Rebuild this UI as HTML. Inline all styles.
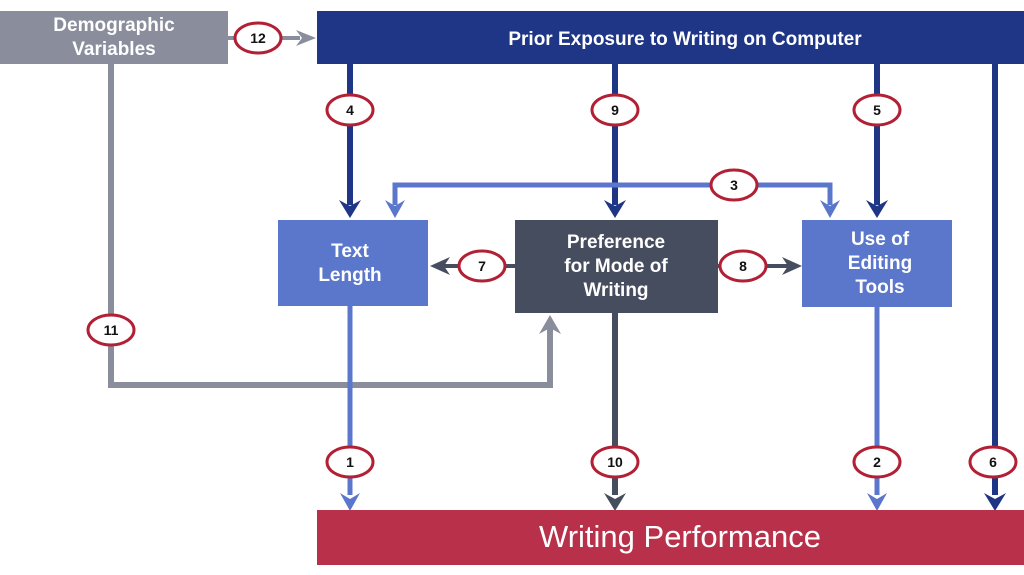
<!DOCTYPE html>
<html><head><style>body{margin:0;background:#fff;}svg{display:block}</style></head><body>
<svg width="1024" height="575" xmlns="http://www.w3.org/2000/svg" font-family="Liberation Sans, sans-serif" font-weight="bold">
<defs>
<marker id="ab" markerWidth="5" markerHeight="5" refX="2.5" refY="2.5" orient="auto" markerUnits="strokeWidth"><path d="M0,0 L5,2.5 L0,5 L1.2,2.5z" fill="#1f3585"/></marker>
</defs>
<rect x="0" y="11" width="228" height="53" fill="#8a8e9c"/>
<text x="114" y="31" fill="#fff" font-size="19" text-anchor="middle">Demographic</text>
<text x="114" y="55" fill="#fff" font-size="19" text-anchor="middle">Variables</text>
<rect x="317" y="11" width="707" height="53" fill="#1f3585"/>
<text x="685" y="45" fill="#fff" font-size="19" text-anchor="middle">Prior Exposure to Writing on Computer</text>
<!-- lines -->
<g stroke-width="6" fill="none">
<path d="M350 64V205" stroke="#1f3585"/>
<path d="M615 64V205" stroke="#1f3585"/>
<path d="M877 64V205" stroke="#1f3585"/>
<path d="M995 64V495" stroke="#1f3585"/>
<path d="M395 205V185H830V205" stroke="#5b77cc" stroke-width="5"/>
<path d="M111 64V385H550V328" stroke="#8a8e9c" stroke-width="6"/>
<path d="M350 306V495" stroke="#5b77cc" stroke-width="5"/>
<path d="M615 313V495" stroke="#464d5e"/>
<path d="M877 307V495" stroke="#5b77cc" stroke-width="5"/>
<path d="M228 38H300" stroke="#8a8e9c" stroke-width="4"/>
<path d="M444 266H515" stroke="#464d5e" stroke-width="4"/>
<path d="M718 266H790" stroke="#464d5e" stroke-width="4"/>
</g>
<!-- arrowheads -->
<g>
<path d="M339 200L350 218L361 200L350 206z" fill="#1f3585"/>
<path d="M604 200L615 218L626 200L615 206z" fill="#1f3585"/>
<path d="M866 200L877 218L888 200L877 206z" fill="#1f3585"/>
<path d="M984 493L995 511L1006 493L995 499z" fill="#1f3585"/>
<path d="M385 200L395 218L405 200L395 206z" fill="#5b77cc"/>
<path d="M820 200L830 218L840 200L830 206z" fill="#5b77cc"/>
<path d="M340 493L350 511L360 493L350 499z" fill="#5b77cc"/>
<path d="M867 493L877 511L887 493L877 499z" fill="#5b77cc"/>
<path d="M604 493L615 511L626 493L615 499z" fill="#464d5e"/>
<path d="M539 334L550 315L561 334L550 328z" fill="#8a8e9c"/>
<path d="M296 30L316 38L296 46L302 38z" fill="#8a8e9c"/>
<path d="M450 257L430 266L450 275L444 266z" fill="#464d5e"/>
<path d="M782 257L802 266L782 275L788 266z" fill="#464d5e"/>
</g>
<rect x="278" y="220" width="150" height="86" fill="#5b77cc"/>
<text x="350" y="257" fill="#fff" font-size="19" text-anchor="middle">Text</text>
<text x="350" y="281" fill="#fff" font-size="19" text-anchor="middle">Length</text>
<rect x="515" y="220" width="203" height="93" fill="#464d5e"/>
<text x="616" y="248" fill="#fff" font-size="19" text-anchor="middle">Preference</text>
<text x="616" y="272" fill="#fff" font-size="19" text-anchor="middle">for Mode of</text>
<text x="616" y="296" fill="#fff" font-size="19" text-anchor="middle">Writing</text>
<rect x="802" y="220" width="150" height="87" fill="#5b77cc"/>
<text x="880" y="245" fill="#fff" font-size="19" text-anchor="middle">Use of</text>
<text x="880" y="269" fill="#fff" font-size="19" text-anchor="middle">Editing</text>
<text x="880" y="293" fill="#fff" font-size="19" text-anchor="middle">Tools</text>
<rect x="317" y="510" width="707" height="55" fill="#b8304a"/>
<text x="680" y="547" fill="#fff" font-size="31" font-weight="normal" text-anchor="middle">Writing Performance</text>
<!-- circles -->
<g fill="#fff" stroke="#b22035" stroke-width="3">
<ellipse cx="258" cy="38" rx="23" ry="15"/>
<ellipse cx="350" cy="110" rx="23" ry="15"/>
<ellipse cx="615" cy="110" rx="23" ry="15"/>
<ellipse cx="877" cy="110" rx="23" ry="15"/>
<ellipse cx="734" cy="185" rx="23" ry="15"/>
<ellipse cx="482" cy="266" rx="23" ry="15"/>
<ellipse cx="743" cy="266" rx="23" ry="15"/>
<ellipse cx="111" cy="330" rx="23" ry="15"/>
<ellipse cx="350" cy="462" rx="23" ry="15"/>
<ellipse cx="615" cy="462" rx="23" ry="15"/>
<ellipse cx="877" cy="462" rx="23" ry="15"/>
<ellipse cx="993" cy="462" rx="23" ry="15"/>
</g>
<g font-size="14" fill="#111" text-anchor="middle">
<text x="258" y="43">12</text>
<text x="350" y="115">4</text>
<text x="615" y="115">9</text>
<text x="877" y="115">5</text>
<text x="734" y="190">3</text>
<text x="482" y="271">7</text>
<text x="743" y="271">8</text>
<text x="111" y="335">11</text>
<text x="350" y="467">1</text>
<text x="615" y="467">10</text>
<text x="877" y="467">2</text>
<text x="993" y="467">6</text>
</g>
</svg>
</body></html>
